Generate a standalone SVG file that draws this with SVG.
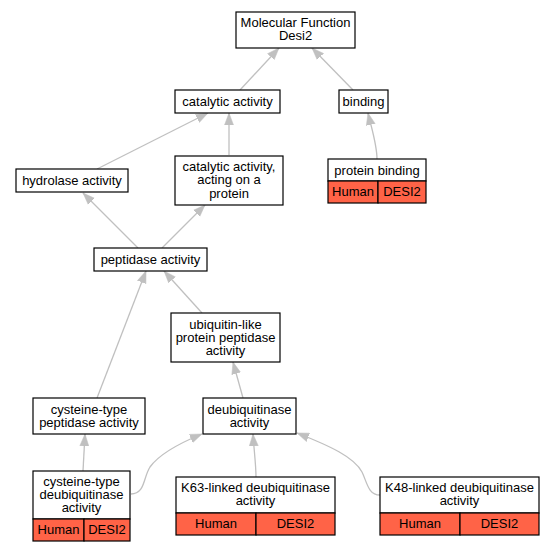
<svg xmlns="http://www.w3.org/2000/svg" width="553" height="552" viewBox="0 0 553 552">
<style>
.box{fill:#ffffff;stroke:#000000;stroke-width:1.2}
.cell{fill:#ff6347;stroke:#000000;stroke-width:1.2}
text{font-family:"Liberation Sans",Arial,sans-serif;font-size:13px;fill:#000000;text-anchor:middle}
.edge{fill:none;stroke:#c0c0c0;stroke-width:1.3;marker-end:url(#arr)}
</style>
<defs>
<marker id="arr" markerUnits="userSpaceOnUse" markerWidth="12" markerHeight="10" refX="12" refY="5" orient="auto" viewBox="0 0 12 10">
<path d="M0,0.5 L12,5 L0,9.5 z" fill="#c0c0c0" stroke="#c0c0c0" stroke-width="0.5"/>
</marker>
</defs>
<rect width="553" height="552" fill="#ffffff"/>
<g id="connectors">
<path class="edge" d="M240,90 L279,48"/>
<path class="edge" d="M353,90 L312,48"/>
<path class="edge" d="M97,169 L208,113"/>
<path class="edge" d="M229,155 L229,113"/>
<path class="edge" d="M377,159 C377,145 372,130 368,113"/>
<path class="edge" d="M138,248 L83,193"/>
<path class="edge" d="M162,248 L205,205"/>
<path class="edge" d="M97,398 L146,271"/>
<path class="edge" d="M202,313 L164,271"/>
<path class="edge" d="M243,398 L233,362"/>
<path class="edge" d="M83,471 L85,434"/>
<path class="edge" d="M131,494 C145,494 143,478 150,467 C160,453 180,443 202,434"/>
<path class="edge" d="M256,477 C256,465 254,450 253,434"/>
<path class="edge" d="M380,495 C368,495 367,482 362,472 C354,457 330,446 297,433"/>
</g>
<g id="mf">
<rect class="box" x="236" y="12" width="119" height="36"/>
<text x="295.5" y="26.5">Molecular Function<tspan x="295.5" dy="13">Desi2</tspan></text>
</g>
<g id="catalytic">
<rect class="box" x="175" y="90" width="105" height="23"/>
<text x="227.5" y="106">catalytic activity</text>
</g>
<g id="binding">
<rect class="box" x="339" y="90" width="49" height="23"/>
<text x="363.5" y="106">binding</text>
</g>
<g id="hydrolase">
<rect class="box" x="16" y="169" width="112" height="23"/>
<text x="72" y="185">hydrolase activity</text>
</g>
<g id="catact">
<rect class="box" x="175" y="156" width="108" height="49"/>
<text x="229" y="170.5">catalytic activity,<tspan x="229" dy="13.5">acting on a</tspan><tspan x="229" dy="13.5">protein</tspan></text>
</g>
<g id="proteinbinding">
<rect class="box" x="328" y="159" width="98" height="22"/>
<rect class="cell" x="328" y="181" width="50" height="22"/>
<rect class="cell" x="378" y="181" width="48" height="22"/>
<text x="377" y="174.5">protein binding</text>
<text x="353" y="196">Human</text>
<text x="402" y="196">DESI2</text>
</g>
<g id="peptidase">
<rect class="box" x="94" y="248" width="113" height="23"/>
<text x="150.5" y="264">peptidase activity</text>
</g>
<g id="ubiquitin">
<rect class="box" x="171" y="313" width="109" height="49"/>
<text x="225.5" y="328.5">ubiquitin-like<tspan x="225.5" dy="13.5">protein peptidase</tspan><tspan x="225.5" dy="13">activity</tspan></text>
</g>
<g id="cyspep">
<rect class="box" x="33" y="398" width="112" height="36"/>
<text x="89" y="413.5">cysteine-type<tspan x="89" dy="13">peptidase activity</tspan></text>
</g>
<g id="deub">
<rect class="box" x="203" y="398" width="93" height="36"/>
<text x="249.5" y="413.5">deubiquitinase<tspan x="249.5" dy="13">activity</tspan></text>
</g>
<g id="cysdeub">
<rect class="box" x="33" y="471" width="97" height="48"/>
<rect class="cell" x="33" y="519" width="51" height="22"/>
<rect class="cell" x="84" y="519" width="46" height="22"/>
<text x="81.5" y="485.5">cysteine-type<tspan x="81.5" dy="13">deubiquitinase</tspan><tspan x="81.5" dy="13">activity</tspan></text>
<text x="58.5" y="534">Human</text>
<text x="107" y="534">DESI2</text>
</g>
<g id="k63">
<rect class="box" x="176" y="477" width="159" height="36"/>
<rect class="cell" x="176" y="513" width="80" height="22"/>
<rect class="cell" x="256" y="513" width="79" height="22"/>
<text x="255.5" y="492">K63-linked deubiquitinase<tspan x="255.5" dy="13">activity</tspan></text>
<text x="216" y="527.5">Human</text>
<text x="295.5" y="527.5">DESI2</text>
</g>
<g id="k48">
<rect class="box" x="380" y="477" width="159" height="36"/>
<rect class="cell" x="380" y="513" width="80" height="22"/>
<rect class="cell" x="460" y="513" width="79" height="22"/>
<text x="459.5" y="492">K48-linked deubiquitinase<tspan x="459.5" dy="13">activity</tspan></text>
<text x="420" y="527.5">Human</text>
<text x="499.5" y="527.5">DESI2</text>
</g>
</svg>
